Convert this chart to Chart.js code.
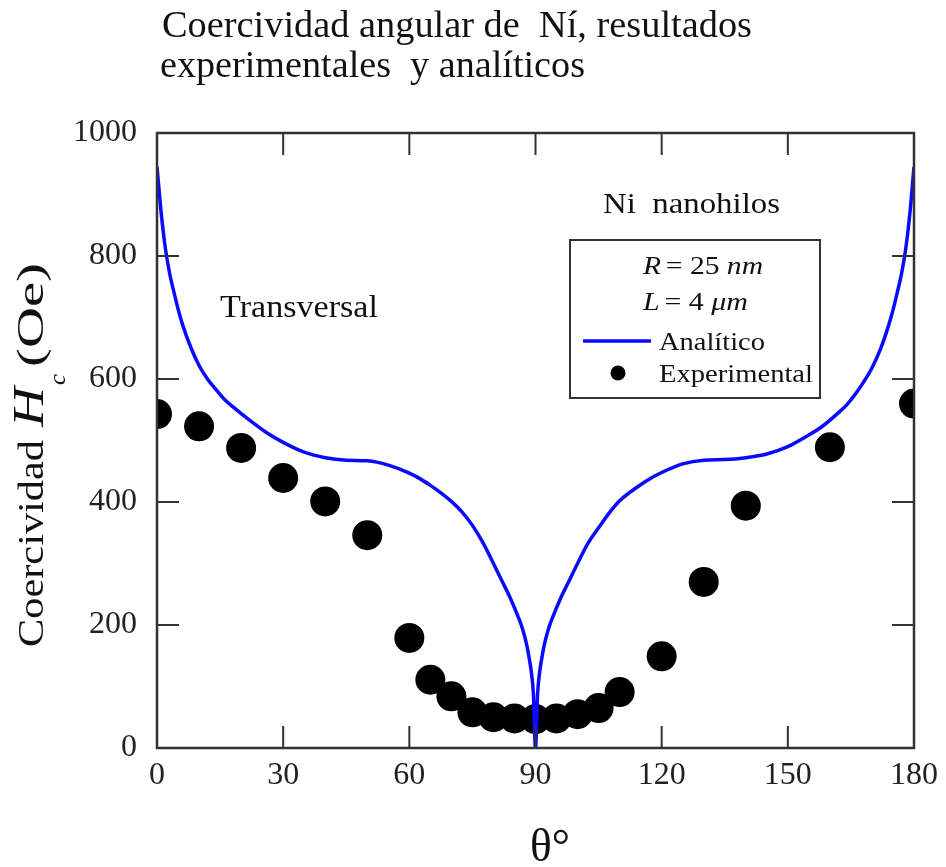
<!DOCTYPE html>
<html>
<head>
<meta charset="utf-8">
<title>Coercividad angular de Ni</title>
<script src="https://cdn.jsdelivr.net/npm/chart.js@4/dist/chart.umd.min.js"></script>
<style>
  html, body { margin: 0; padding: 0; background: #fff; }
  .wrap { width: 946px; height: 867px; position: relative; }
</style>
</head>
<body>
<div class="wrap"><canvas id="myChart"></canvas></div>
<script>
// datos experimentales (angulo en grados, Hc en Oe)
const expAngles = [0, 10, 20, 30, 40, 50, 60, 65, 70, 75, 80, 85, 90, 95, 100, 105, 110, 120, 130, 140, 160, 180];
const expHc = [543, 523, 488, 439, 401, 346, 179, 111, 84, 58, 50, 48, 47, 48, 55, 65, 91, 149, 270, 394, 489, 560];

// curva analitica
const anaAngles = [0, 1, 2, 3, 4, 5, 6, 8, 10, 12, 14, 16, 18, 22, 26, 30, 35, 40, 45, 50, 55, 60, 62.5, 65, 67.5, 70, 72.5, 75, 77.5, 80, 82, 84, 86, 87, 88, 88.5, 89, 89.5, 90,
  90.5, 91, 91.5, 92, 93, 94, 96, 98, 100, 102.5, 105, 107.5, 110, 112.5, 115, 117.5, 120, 125, 130, 135, 140, 145, 150, 154, 158, 162, 164, 166, 168, 170, 172, 174, 175, 176, 177, 178, 179, 180];
const anaHc = [945, 870, 812, 772, 742, 714, 690, 652, 622, 600, 583, 567, 555, 533, 513, 497, 481, 472, 468, 467, 460, 447, 438, 427, 415, 401, 384, 362, 334, 300, 272, 244, 211, 192, 165, 146, 124, 88, 0,
  88, 124, 146, 165, 192, 211, 244, 272, 300, 333, 358, 382, 402, 416, 428, 439, 448, 462, 468, 469, 472, 478, 490, 505, 522, 545, 558, 575, 595, 618, 648, 688, 712, 740, 770, 810, 868, 945];

const xTicks = [0, 30, 60, 90, 120, 150, 180];
const yTicks = [0, 200, 400, 600, 800, 1000];

const SERIF = '"Liberation Serif", "Times New Roman", serif';

// dibuja trozos de texto seguidos, estirados al ancho pedido
function drawRuns(ctx, runs, x, y, width) {
  let total = 0;
  runs.forEach(r => {
    ctx.font = r.font;
    r.w = ctx.measureText(r.t).width;
    total += r.w + (r.gap || 0);
  });
  ctx.save();
  ctx.translate(x, y);
  ctx.scale(width / total, 1);
  let cx = 0;
  runs.forEach(r => {
    ctx.font = r.font;
    ctx.fillText(r.t, cx, r.dy || 0);
    cx += r.w + (r.gap || 0);
  });
  ctx.restore();
}

const frame = {
  id: 'frame',
  afterDatasetsDraw(chart) {
    const { ctx, chartArea: a, scales } = chart;
    ctx.save();
    ctx.strokeStyle = '#333';
    ctx.lineWidth = 2.5;
    ctx.strokeRect(a.left, a.top, a.right - a.left, a.bottom - a.top);
    ctx.lineWidth = 2;
    ctx.beginPath();
    xTicks.slice(1, -1).forEach(v => {
      const px = scales.x.getPixelForValue(v);
      ctx.moveTo(px, a.bottom); ctx.lineTo(px, a.bottom - 22);
      ctx.moveTo(px, a.top); ctx.lineTo(px, a.top + 22);
    });
    yTicks.slice(1, -1).forEach(v => {
      const py = scales.y.getPixelForValue(v);
      ctx.moveTo(a.left, py); ctx.lineTo(a.left + 22, py);
      ctx.moveTo(a.right, py); ctx.lineTo(a.right - 22, py);
    });
    ctx.stroke();
    ctx.restore();
  },
  afterDraw(chart) {
    const ctx = chart.ctx;
    ctx.save();
    ctx.fillStyle = '#111';
    ctx.textBaseline = 'alphabetic';
    ctx.textAlign = 'left';

    // titulo
    drawRuns(ctx, [{ t: 'Coercividad angular de  Ní, resultados', font: '37px ' + SERIF }], 162, 37, 590);
    drawRuns(ctx, [{ t: 'experimentales  y analíticos', font: '37px ' + SERIF }], 160, 77, 425);

    // eje y, girado
    ctx.save();
    ctx.translate(43, 647);
    ctx.rotate(-Math.PI / 2);
    drawRuns(ctx, [{ t: 'Coercividad', font: '35px ' + SERIF }], 0, 0, 207);
    drawRuns(ctx, [{ t: 'H', font: 'italic 44px ' + SERIF }], 220, 0, 40);
    drawRuns(ctx, [{ t: 'c', font: 'italic 24px ' + SERIF }], 262, 22, 11);
    drawRuns(ctx, [{ t: '(Oe)', font: '37px ' + SERIF }], 280, 0, 104);
    ctx.restore();

    // eje x
    drawRuns(ctx, [{ t: 'θ°', font: '46px ' + SERIF }], 530, 861, 40);

    // anotaciones
    drawRuns(ctx, [{ t: 'Transversal', font: '32px ' + SERIF }], 220, 317, 158);
    drawRuns(ctx, [{ t: 'Ni  nanohilos', font: '30px ' + SERIF }], 603, 213, 177);

    // leyenda
    ctx.fillStyle = '#fff';
    ctx.fillRect(570, 240, 250, 158);
    ctx.strokeStyle = '#333';
    ctx.lineWidth = 2;
    ctx.strokeRect(570, 240, 250, 158);
    ctx.fillStyle = '#111';
    drawRuns(ctx, [
      { t: 'R', font: 'italic 25px ' + SERIF, gap: 4 },
      { t: '= 25 ', font: '25px ' + SERIF },
      { t: 'nm', font: 'italic 25px ' + SERIF }
    ], 643, 274, 120);
    drawRuns(ctx, [
      { t: 'L', font: 'italic 25px ' + SERIF, gap: 4 },
      { t: '= 4 ', font: '25px ' + SERIF },
      { t: 'μm', font: 'italic 25px ' + SERIF }
    ], 643, 310, 105);
    ctx.strokeStyle = '#0a0aff';
    ctx.lineWidth = 3.5;
    ctx.beginPath();
    ctx.moveTo(583, 341); ctx.lineTo(651, 341);
    ctx.stroke();
    drawRuns(ctx, [{ t: 'Analítico', font: '25px ' + SERIF }], 659, 350, 106);
    ctx.fillStyle = '#000';
    ctx.beginPath();
    ctx.arc(618, 373, 7.5, 0, Math.PI * 2);
    ctx.fill();
    ctx.fillStyle = '#111';
    drawRuns(ctx, [{ t: 'Experimental', font: '25px ' + SERIF }], 659, 382, 154);
    ctx.restore();
  }
};

const ctx = document.getElementById('myChart');

const data = {
  datasets: [
    {
      label: 'Analítico',
      data: anaAngles.map((a, i) => ({ x: a, y: anaHc[i] })),
      showLine: true,
      borderColor: '#0a0aff',
      borderWidth: 3.5,
      pointRadius: 0,
      cubicInterpolationMode: 'monotone',
      clip: 0,
      order: 0
    },
    {
      label: 'Experimental',
      data: expAngles.map((a, i) => ({ x: a, y: expHc[i] })),
      backgroundColor: '#000',
      borderWidth: 0,
      pointRadius: 15,
      pointHoverRadius: 15,
      clip: 0,
      order: 1
    }
  ]
};

const config = {
  type: 'scatter',
  data: data,
  options: {
    responsive: true,
    maintainAspectRatio: false,
    animation: false,
    layout: { padding: { top: 133, right: 30, left: 0, bottom: 0 } },
    plugins: {
      legend: { display: false },
      tooltip: { enabled: false },
      title: { display: false }
    },
    scales: {
      x: {
        type: 'linear',
        min: 0,
        max: 180,
        grid: { display: false, drawTicks: false },
        border: { display: false },
        ticks: {
          stepSize: 30,
          padding: 8,
          color: '#222',
          font: { family: SERIF, size: 32 },
          callback: (v) => String(v)
        },
        afterFit: (scale) => { scale.height = 119; }
      },
      y: {
        min: 0,
        max: 1000,
        grid: { display: false, drawTicks: false },
        border: { display: false },
        ticks: {
          stepSize: 200,
          padding: 20,
          color: '#222',
          font: { family: SERIF, size: 32 },
          callback: (v) => String(v)
        },
        afterFit: (scale) => { scale.width = 157; }
      }
    }
  },
  plugins: [frame]
};

const myChart = new Chart(ctx, config);
</script>
</body>
</html>
